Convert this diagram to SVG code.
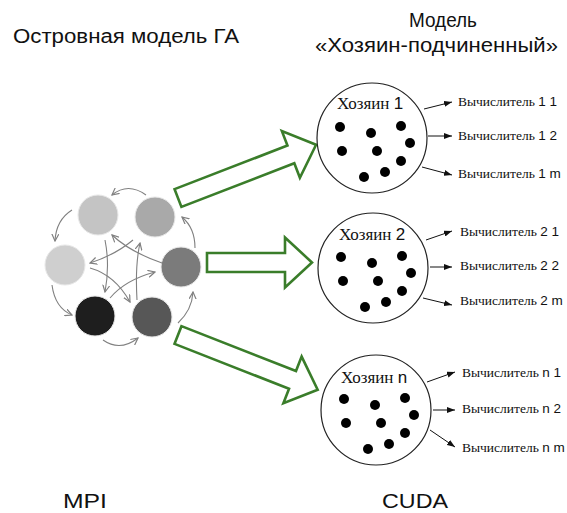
<svg xmlns="http://www.w3.org/2000/svg" width="567" height="513" viewBox="0 0 567 513">
<style>
.title{font-family:"Liberation Sans",Arial,sans-serif;font-size:20px;fill:#111}
.big{font-family:"Liberation Sans",Arial,sans-serif;font-size:21px;fill:#111}
.host{font-family:"Liberation Serif","Times New Roman",serif;font-size:17px;fill:#111}
.lbl{font-family:"Liberation Serif","Times New Roman",serif;font-size:13.5px;fill:#111}
.num{font-family:"Liberation Sans",Arial,sans-serif}
.ring{fill:none;stroke:#808080;stroke-width:1.1;marker-end:url(#vhead)}
.blk{fill:none;stroke:#111;stroke-width:1;marker-end:url(#fhead)}
.garrow{fill:#fff;stroke:#3a7d2a;stroke-width:2.6;stroke-linejoin:miter}
.master{fill:#fff;stroke:#222;stroke-width:1.2}
.isl{stroke:#e8e8e8;stroke-width:1}
</style>
<defs>
<marker id="vhead" viewBox="0 0 8 8" refX="7" refY="4" markerWidth="8" markerHeight="8" markerUnits="userSpaceOnUse" orient="auto">
<path d="M0,0.5 L7,4 L0,7.5" fill="none" stroke="#808080" stroke-width="1.2"/>
</marker>
<marker id="fhead" viewBox="0 0 8 6" refX="8" refY="3" markerWidth="8" markerHeight="6" markerUnits="userSpaceOnUse" orient="auto">
<path d="M0,0 L8,3 L0,6 Z" fill="#111"/>
</marker>
<g id="dots" fill="#000">
<circle cx="-32" cy="-11" r="5"/><circle cx="-1" cy="-5" r="5"/><circle cx="29" cy="-12" r="5"/>
<circle cx="38" cy="5" r="5"/><circle cx="-30" cy="13" r="5"/><circle cx="5" cy="13" r="5"/>
<circle cx="29" cy="23" r="5"/><circle cx="13" cy="34" r="5"/><circle cx="-8" cy="39" r="5"/>
</g>
</defs>

<text class="title" x="13" y="43" textLength="226" lengthAdjust="spacingAndGlyphs">Островная модель ГА</text>
<text class="title" x="409" y="27" textLength="68" lengthAdjust="spacingAndGlyphs">Модель</text>
<text class="title" x="315" y="52" textLength="243" lengthAdjust="spacingAndGlyphs">«Хозяин-подчиненный»</text>
<text class="big" x="63" y="508" textLength="44" lengthAdjust="spacingAndGlyphs">MPI</text>
<text class="big" x="382" y="508" textLength="66" lengthAdjust="spacingAndGlyphs">CUDA</text>

<g id="islands">
<circle class="isl" cx="98" cy="215" r="20" fill="#c4c4c4"/>
<circle class="isl" cx="155" cy="217" r="20" fill="#a9a9a9"/>
<circle class="isl" cx="65" cy="265" r="20" fill="#cfcfcf"/>
<circle class="isl" cx="181" cy="267" r="20" fill="#7b7b7b"/>
<circle class="isl" cx="95" cy="316" r="20" fill="#1e1e1e"/>
<circle class="isl" cx="152" cy="317" r="20" fill="#575757"/>
</g>

<g id="connectors">
<path class="ring" d="M146,195 Q128,182 112,195"/>
<path class="ring" d="M72,210 Q56,220 55,241"/>
<path class="ring" d="M52,285 Q55,308 72,315"/>
<path class="ring" d="M103,340 Q120,352 138,338"/>
<path class="ring" d="M178,323 Q192,310 193,292"/>
<path class="ring" d="M195,248 Q195,228 182,217"/>
<path class="ring" d="M162,263 Q130,252 112,235"/>
<path class="ring" d="M137,300 Q135,265 140,243"/>
<path class="ring" d="M133,240 Q115,255 90,263"/>
<path class="ring" d="M110,298 Q125,280 155,272"/>
<path class="ring" d="M90,268 Q115,275 130,302"/>
<path class="ring" d="M105,240 Q110,265 105,292"/>

<polygon class="garrow" transform="translate(178,198) rotate(-21.1)" points="0,-9.5 121,-9.5 121,-25 148,0 121,25 121,9.5 0,9.5"/>
<polygon class="garrow" transform="translate(207,262.5)" points="0,-9.5 78,-9.5 78,-25 105,0 78,25 78,9.5 0,9.5"/>
<polygon class="garrow" transform="translate(178,335) rotate(21.4)" points="0,-9.5 123,-9.5 123,-25 150,0 123,25 123,9.5 0,9.5"/>

<path class="blk" d="M424,109 L452,102"/>
<path class="blk" d="M428,136 L452,136"/>
<path class="blk" d="M422,167 L452,175"/>
<path class="blk" d="M426,240 L452,231"/>
<path class="blk" d="M430,267 L452,267"/>
<path class="blk" d="M423,298 L452,305"/>
<path class="blk" d="M427,382 L455,372"/>
<path class="blk" d="M433,410 L455,410"/>
<path class="blk" d="M430,430 L455,447"/>
</g>

<g id="host1">
<circle class="master" cx="372" cy="138" r="55"/>
<use href="#dots" x="372" y="138"/>
<text class="host" x="337" y="109">Хозяин <tspan class="num">1</tspan></text>
<text class="lbl" x="458" y="106">Вычислитель <tspan class="num">1 1</tspan></text>
<text class="lbl" x="458" y="140">Вычислитель <tspan class="num">1 2</tspan></text>
<text class="lbl" x="458" y="178">Вычислитель <tspan class="num">1 m</tspan></text>
</g>
<g id="host2">
<circle class="master" cx="373" cy="268" r="55"/>
<use href="#dots" x="373" y="268"/>
<text class="host" x="339" y="240">Хозяин <tspan class="num">2</tspan></text>
<text class="lbl" x="460" y="236">Вычислитель <tspan class="num">2 1</tspan></text>
<text class="lbl" x="460" y="270">Вычислитель <tspan class="num">2 2</tspan></text>
<text class="lbl" x="460" y="305">Вычислитель <tspan class="num">2 m</tspan></text>
</g>
<g id="hostn">
<circle class="master" cx="376" cy="410" r="55"/>
<use href="#dots" x="376" y="410"/>
<text class="host" x="341" y="383">Хозяин <tspan class="num">n</tspan></text>
<text class="lbl" x="462" y="377">Вычислитель <tspan class="num">n 1</tspan></text>
<text class="lbl" x="462" y="413">Вычислитель <tspan class="num">n 2</tspan></text>
<text class="lbl" x="462" y="452">Вычислитель <tspan class="num">n m</tspan></text>
</g>
</svg>
